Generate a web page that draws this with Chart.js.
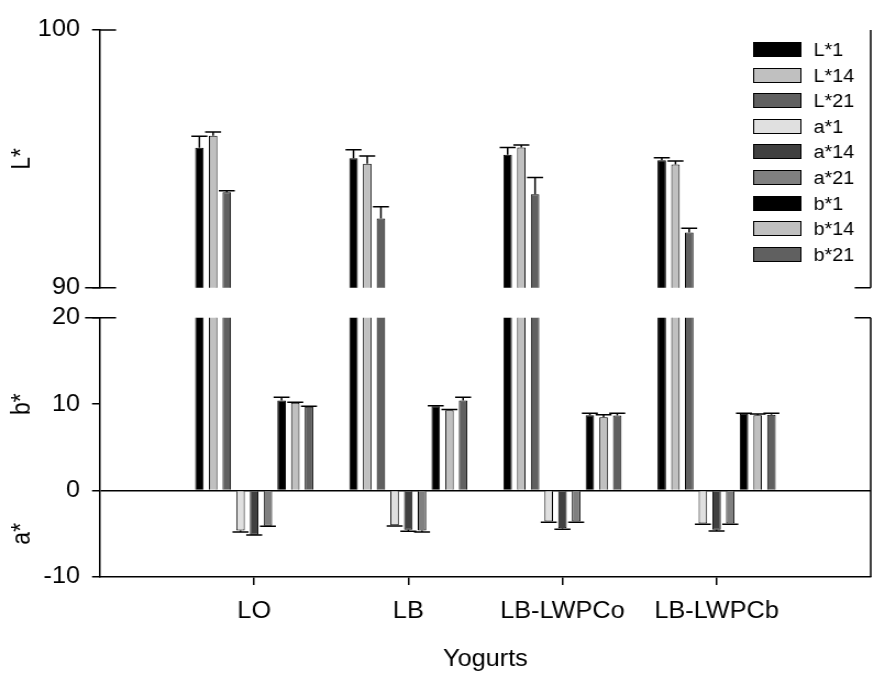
<!DOCTYPE html>
<html>
<head>
<meta charset="utf-8">
<script src="https://cdn.jsdelivr.net/npm/chart.js@4/dist/chart.umd.min.js"></script>
<style>
html,body{margin:0;padding:0;background:#fff;}
#c{display:block;width:885px;height:673px;}
</style>
</head>
<body>
<canvas id="c" width="805" height="673" style="width:885px;height:673px;"></canvas>
<script>
// ---- data ----
const categories = ['LO', 'LB', 'LB-LWPCo', 'LB-LWPCb'];
const seriesNames = ['L*1', 'L*14', 'L*21', 'a*1', 'a*14', 'a*21', 'b*1', 'b*14', 'b*21'];

const L1    = [95.43, 95.02, 95.16, 94.95];
const L1err = [0.45, 0.33, 0.28, 0.09];
const L14    = [95.90, 94.81, 95.44, 94.78];
const L14err = [0.14, 0.30, 0.10, 0.14];
const L21    = [93.70, 92.69, 93.63, 92.14];
const L21err = [0.06, 0.45, 0.65, 0.17];

const a1    = [-4.63, -4.02, -3.59, -3.82];
const a1err = [0.15, 0.08, 0.08, 0.08];
const a14    = [-5.10, -4.52, -4.37, -4.52];
const a14err = [0.05, 0.19, 0.11, 0.15];
const a21    = [-4.06, -4.63, -3.59, -3.82];
const a21err = [0.07, 0.16, 0.08, 0.08];

const b1    = [10.43, 9.77, 8.73, 8.88];
const b1err = [0.38, 0.05, 0.23, 0.08];
const b14    = [10.16, 9.30, 8.50, 8.73];
const b14err = [0.07, 0.09, 0.27, 0.12];
const b21    = [9.70, 10.43, 8.69, 8.77];
const b21err = [0.07, 0.38, 0.27, 0.19];

const topTicks = [90, 100];
const bottomTicks = [-10, 0, 10, 20];

// ---- styling ----
// the reference picture is horizontally stretched; the canvas is drawn 805 wide and shown 885 wide
const SX = 885 / 805;
const FONT = '"Liberation Sans", Arial, sans-serif';
const fills = ['#000000', '#c0c0c0', '#606060', '#e0e0e0', '#404040', '#808080', '#000000', '#c0c0c0', '#606060'];
const values = [L1, L14, L21, a1, a14, a21, b1, b14, b21];
const errors = [L1err, L14err, L21err, a1err, a14err, a21err, b1err, b14err, b21err];

const xLabels = [''].concat(categories, ['']);
const pad = arr => [null].concat(arr, [null]);

const datasets = [];
values.forEach((v, i) => {
  datasets.push({
    label: seriesNames[i],
    data: pad(v),
    backgroundColor: fills[i],
    borderColor: '#000',
    borderWidth: 1,
    yAxisID: 'yBot',
    stack: 's' + i,
    clip: 0,
    errors: i < 3 ? null : pad(errors[i]),
    inLegend: true
  });
});
for (let i = 0; i < 3; i++) {
  datasets.push({
    label: seriesNames[i],
    data: pad(values[i]),
    backgroundColor: fills[i],
    borderColor: '#000',
    borderWidth: 1,
    yAxisID: 'yTop',
    stack: 's' + i,
    clip: 0,
    errors: pad(errors[i]),
    inLegend: false
  });
}

const errorBarPlugin = {
  id: 'errorBars',
  afterDatasetsDraw(chart) {
    const ctx = chart.ctx;
    const half = 8 / SX;
    ctx.save();
    ctx.strokeStyle = '#000';
    ctx.lineWidth = 1.5;
    chart.data.datasets.forEach((ds, i) => {
      if (!ds.errors) return;
      const meta = chart.getDatasetMeta(i);
      const yScale = chart.scales[meta.yAxisID];
      meta.data.forEach((el, j) => {
        const v = ds.data[j], e = ds.errors[j];
        if (v == null || e == null) return;
        const tip = v + (v >= 0 ? e : -e);
        const yTip = yScale.getPixelForValue(tip);
        const x = el.x;
        ctx.beginPath();
        ctx.moveTo(x, el.y);
        ctx.lineTo(x, yTip);
        ctx.moveTo(x - half, yTip);
        ctx.lineTo(x + half, yTip);
        ctx.stroke();
      });
    });
    ctx.restore();
  }
};

const framePlugin = {
  id: 'frame',
  afterDraw(chart) {
    const {ctx, chartArea: ca, scales} = chart;
    const t = scales.yTop, b = scales.yBot;
    const L = ca.left, R = ca.right;
    const out = 15 / SX, inn = 16 / SX;
    ctx.save();
    ctx.strokeStyle = '#000';
    ctx.lineWidth = 1.5;
    ctx.beginPath();
    ctx.moveTo(R, t.top); ctx.lineTo(R, t.bottom);
    ctx.moveTo(R, b.top); ctx.lineTo(R, b.bottom);
    ctx.moveTo(L - out, t.bottom); ctx.lineTo(L + inn, t.bottom);
    ctx.moveTo(L - out, b.top); ctx.lineTo(L + inn, b.top);
    ctx.moveTo(R - inn, t.bottom); ctx.lineTo(R, t.bottom);
    ctx.moveTo(R - inn, b.top); ctx.lineTo(R, b.top);
    ctx.moveTo(L, t.top); ctx.lineTo(L + inn, t.top);
    ctx.stroke();
    ctx.fillStyle = '#000';
    ctx.font = '23px ' + FONT;
    ctx.textAlign = 'center';
    ctx.textBaseline = 'middle';
    [['b*', 10], ['a*', -5]].forEach(([txt, v]) => {
      ctx.save();
      ctx.translate(21, b.getPixelForValue(v));
      ctx.rotate(-Math.PI / 2);
      ctx.fillText(txt, 0, 0);
      ctx.restore();
    });
    ctx.restore();
  }
};

const legendPlugin = {
  id: 'insideLegend',
  afterDraw(chart) {
    const {ctx, chartArea} = chart;
    const items = chart.data.datasets.filter(d => d.inLegend);
    const x0 = Math.round(chartArea.right - 118 / SX), w = Math.round(48 / SX), h = 15, gap = 25.6;
    const y0 = chartArea.top + 20;
    ctx.save();
    ctx.font = '18px ' + FONT;
    ctx.textBaseline = 'middle';
    ctx.textAlign = 'left';
    items.forEach((d, i) => {
      const cy = Math.round(y0 + i * gap);
      const top = cy - Math.round(h / 2);
      ctx.fillStyle = d.backgroundColor;
      ctx.fillRect(x0, top, w, h);
      ctx.strokeStyle = '#000';
      ctx.lineWidth = 1;
      ctx.strokeRect(x0 + 0.5, top + 0.5, w - 1, h - 1);
      ctx.fillStyle = '#000';
      ctx.fillText(d.label, x0 + w + 11, cy + 1);
    });
    ctx.restore();
  }
};

const tickFont = {family: FONT, size: 23};
const yCommon = {
  type: 'linear',
  position: 'left',
  stack: 'left',
  stacked: false,
  afterFit: s => { s.width = 91; }
};

new Chart(document.getElementById('c'), {
  type: 'bar',
  data: {labels: xLabels, datasets: datasets},
  options: {
    responsive: false,
    devicePixelRatio: 1,
    animation: false,
    events: [],
    datasets: {bar: {categoryPercentage: 0.8, barPercentage: 0.62}},
    layout: {padding: {top: 30, right: 4.5, left: 0, bottom: 0}},
    plugins: {legend: {display: false}, tooltip: {enabled: false}, title: {display: false}},
    scales: {
      x: {
        type: 'category',
        position: 'bottom',
        offset: false,
        grid: {
          offset: false,
          drawOnChartArea: false,
          drawTicks: true,
          tickLength: 8,
          lineWidth: 1.5,
          tickColor: ctx => (ctx.index === 0 || ctx.index === xLabels.length - 1) ? 'rgba(0,0,0,0)' : '#000'
        },
        border: {display: true, color: '#000', width: 1.5},
        ticks: {autoSkip: false, maxRotation: 0, minRotation: 0, color: '#000', font: {family: FONT, size: 23}, padding: 13},
        title: {display: true, text: 'Yogurts', color: '#000', font: {family: FONT, size: 23}, padding: {top: 10, bottom: 0}},
        afterFit: s => { s.height = 96; }
      },
      yBot: Object.assign({}, yCommon, {
        stackWeight: 259,
        min: -10, max: 20,
        afterBuildTicks: s => { s.ticks = bottomTicks.map(v => ({value: v})); },
        ticks: {color: '#000', font: tickFont, padding: 11},
        grid: {
          drawOnChartArea: true,
          drawTicks: true,
          tickLength: 8 / SX,
          lineWidth: 1.5,
          color: ctx => (ctx.tick && ctx.tick.value === 0) ? '#000' : 'rgba(0,0,0,0)',
          tickColor: '#000'
        },
        border: {display: true, color: '#000', width: 1.5}
      }),
      ySpace: Object.assign({}, yCommon, {
        stackWeight: 30,
        min: 0, max: 1,
        ticks: {display: false},
        grid: {display: false},
        border: {display: false}
      }),
      yTop: Object.assign({}, yCommon, {
        stackWeight: 257.5,
        min: 90, max: 100,
        afterBuildTicks: s => { s.ticks = topTicks.map(v => ({value: v})); },
        ticks: {color: '#000', font: tickFont, padding: 11},
        grid: {drawOnChartArea: false, drawTicks: true, tickLength: 8 / SX, lineWidth: 1.5, tickColor: '#000'},
        border: {display: true, color: '#000', width: 1.5},
        title: {display: true, text: 'L*', color: '#000', font: {family: FONT, size: 23}, padding: {top: 7, bottom: 0}}
      })
    }
  },
  plugins: [errorBarPlugin, framePlugin, legendPlugin]
});
</script>
</body>
</html>
